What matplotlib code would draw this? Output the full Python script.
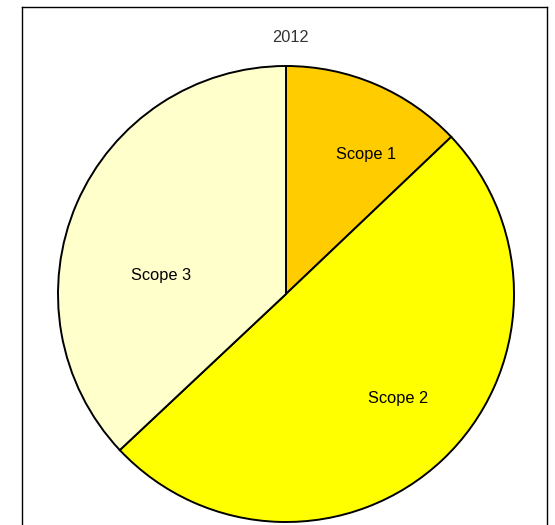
import matplotlib
matplotlib.use('Agg')
import matplotlib.pyplot as plt
from matplotlib.lines import Line2D

# Data
year = '2012'
scopes = ['Scope 1', 'Scope 2', 'Scope 3']
shares = [12.9, 50.1, 37.0]
colors = ['#FFCC00', '#FFFF00', '#FFFFCC']

plt.rcParams['font.family'] = ['Liberation Sans', 'DejaVu Sans']

fig = plt.figure(figsize=(5.55, 5.25), dpi=100)

# Outer frame (left, top, right edges; bottom is cut off)
x0, x1, ytop = 21.5 / 555, 546.5 / 555, 1 - 6.5 / 525
for xs, ys in [([x0, x0], [0, ytop]), ([x0, x1], [ytop, ytop]), ([x1, x1], [ytop, 0])]:
    fig.add_artist(Line2D(xs, ys, color='black', lw=1.0, transform=fig.transFigure))

# Pie axes: circle centre ~ (286, 294) px, radius ~ 228 px
ax = fig.add_axes([58 / 555, 3 / 525, 456 / 555, 456 / 525])
wedges, _ = ax.pie(shares, colors=colors, startangle=90, counterclock=False,
                   wedgeprops=dict(edgecolor='black', linewidth=1.4))
ax.set_xlim(-1, 1)
ax.set_ylim(-1, 1)
ax.set_aspect('equal')
ax.axis('off')

# Slice labels, placed where the original chart puts them
label_xy = [(0.35, 0.61), (0.49, -0.46), (-0.55, 0.08)]
for name, (lx, ly) in zip(scopes, label_xy):
    ax.text(lx, ly, name, ha='center', va='center', fontsize=11.8, color='black')

fig.text(290 / 555, 1 - 37 / 525, year, ha='center', va='center',
         fontsize=11.8, color='#333333')

fig.savefig('out.png', dpi=100)
